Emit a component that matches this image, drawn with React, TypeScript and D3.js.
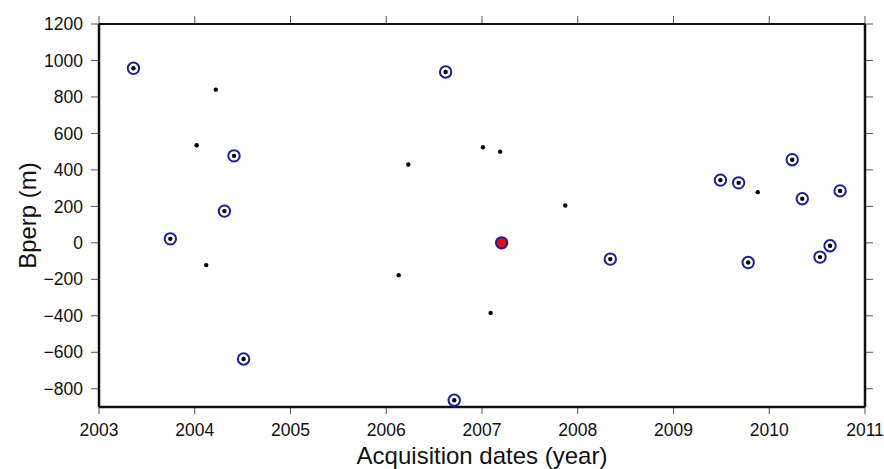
import React from "react";
import * as d3 from "d3";

// Circled acquisitions (year, Bperp m)
const circledYears = [2003.36, 2003.745, 2004.31, 2004.41, 2004.51, 2006.62, 2006.71, 2008.34, 2009.49, 2009.68, 2009.78, 2010.24, 2010.345, 2010.53, 2010.635, 2010.74];
const circledBperp = [957, 22, 174, 477, -637, 937, -863, -89, 344, 329, -108, 456, 242, -78, -16, 285];

// Plain acquisitions
const dotYears = [2004.22, 2004.02, 2004.12, 2006.23, 2007.01, 2007.19, 2007.87, 2006.13, 2007.09, 2009.88];
const dotBperp = [840, 535, -122, 430, 524, 500, 205, -177, -384, 278];

// Master acquisition
const masterYear = [2007.205];
const masterBperp = [0];

const xTicks = [2003, 2004, 2005, 2006, 2007, 2008, 2009, 2010, 2011];
const yTicks = [-800, -600, -400, -200, 0, 200, 400, 600, 800, 1000, 1200];

const W = 884;
const H = 469;
const M = { left: 99, right: 865, top: 24, bottom: 407 };

export default function App() {
  const x = d3.scaleLinear().domain([2003, 2011]).range([M.left, M.right]);
  const y = d3.scaleLinear().domain([-900, 1200]).range([M.bottom, M.top]);
  const fmt = (v: number) => (v < 0 ? "\u2212" + Math.abs(v) : String(v));
  const font = "'Liberation Sans', Arial, Helvetica, sans-serif";
  const blue = "#1d1da3";
  const tickColor = "#555";

  return (
    <svg
      width={W}
      height={H}
      style={{ position: "absolute", left: 0, top: 0, background: "#fff" }}
      fontFamily={font}
    >
      {/* ticks */}
      {xTicks.map((t) => (
        <g key={"xt" + t}>
          <line x1={x(t)} x2={x(t)} y1={M.bottom} y2={M.bottom + 7} stroke={tickColor} strokeWidth={1} />
          <line x1={x(t)} x2={x(t)} y1={M.top} y2={M.top - 8} stroke={tickColor} strokeWidth={1} />
          <text x={x(t)} y={M.bottom + 29} textAnchor="middle" fontSize={17.5} fill="#111">
            {t}
          </text>
        </g>
      ))}
      {yTicks.map((t) => (
        <g key={"yt" + t}>
          <line x1={M.left - 8} x2={M.left} y1={y(t)} y2={y(t)} stroke={tickColor} strokeWidth={1} />
          <line x1={M.right} x2={M.right + 8} y1={y(t)} y2={y(t)} stroke={tickColor} strokeWidth={1} />
          <text x={M.left - 16} y={y(t)} dy="0.35em" textAnchor="end" fontSize={17.5} fill="#111">
            {fmt(t)}
          </text>
        </g>
      ))}
      {/* frame */}
      <line x1={M.left} x2={M.right} y1={M.top} y2={M.top} stroke="#111" strokeWidth={2} />
      <line x1={M.right} x2={M.right} y1={M.top} y2={M.bottom} stroke="#111" strokeWidth={2.5} />
      <line x1={M.left} x2={M.right} y1={M.bottom} y2={M.bottom} stroke="#111" strokeWidth={2.5} />
      <line x1={M.left} x2={M.left} y1={M.top} y2={M.bottom} stroke="#111" strokeWidth={2.5} />

      {/* plain dots */}
      {dotYears.map((d, i) => (
        <circle key={"d" + i} cx={x(d)} cy={y(dotBperp[i])} r={2.2} fill="#000" />
      ))}
      {/* circled */}
      {circledYears.map((d, i) => (
        <g key={"c" + i}>
          <circle cx={x(d)} cy={y(circledBperp[i])} r={5.7} fill="none" stroke={blue} strokeWidth={2} />
          <circle cx={x(d)} cy={y(circledBperp[i])} r={2.2} fill="#000" />
        </g>
      ))}
      {/* master */}
      {masterYear.map((d, i) => (
        <circle key={"m" + i} cx={x(d)} cy={y(masterBperp[i])} r={5.7} fill="#ff0000" stroke={blue} strokeWidth={2} />
      ))}

      {/* axis titles */}
      <text x={(M.left + M.right) / 2} y={464} textAnchor="middle" fontSize={24} fill="#111">
        Acquisition dates (year)
      </text>
      <text
        transform={`translate(36, ${(M.top + M.bottom) / 2}) rotate(-90)`}
        textAnchor="middle"
        fontSize={24}
        fill="#111"
      >
        Bperp (m)
      </text>
    </svg>
  );
}
